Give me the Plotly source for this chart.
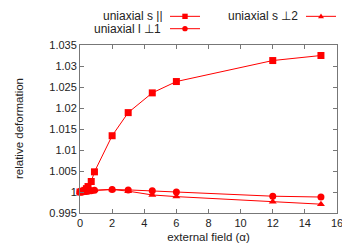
import plotly.graph_objects as go

field = [0, 0.1, 0.2, 0.3, 0.4, 0.5, 0.7, 0.9, 2, 3, 4.5, 6, 12, 15]
s_par = [1.0, 1.0001, 1.0002, 1.0004, 1.0008, 1.0013, 1.0025, 1.0048, 1.0134, 1.0189, 1.0236, 1.0263, 1.0313, 1.0325]
l_perp1 = [1.0, 1.0, 1.0001, 1.0001, 1.0002, 1.0002, 1.0003, 1.0004, 1.0006, 1.0005, 1.0003, 1.0, 0.999, 0.9988]
s_perp2 = [1.0, 1.0, 1.0, 1.0001, 1.0001, 1.0002, 1.0003, 1.0004, 1.0006, 1.0002, 0.9993, 0.9989, 0.9977, 0.9971]

names = ["uniaxial s ||", "uniaxial l \u22a51", "uniaxial s \u22a52"]
symbols = ["square", "circle", "triangle-up"]
sizes = [7, 7, 7]
series = [s_par, l_perp1, s_perp2]

ytickvals = [0.995, 1.0, 1.005, 1.01, 1.015, 1.02, 1.025, 1.03, 1.035]
yticktext = ["0.995", "1", "1.005", "1.01", "1.015", "1.02", "1.025", "1.03", "1.035"]
xtickvals = [0, 2, 4, 6, 8, 10, 12, 14, 16]

RED = "#ff0000"
FONT = "Liberation Sans, Arial, sans-serif"
W, H = 350, 245
ML, MR, MT, MB = 72, 21, 37, 38
PW, PH = W - ML - MR, H - MT - MB


def px(x):
    return (x - ML) / PW


def py(y):
    return (H - MB - y) / PH


fig = go.Figure()
for nm, sym, sz, ys in zip(names, symbols, sizes, series):
    fig.add_trace(go.Scatter(x=field, y=ys, mode="lines+markers", name=nm,
                             line=dict(color=RED, width=1),
                             marker=dict(symbol=sym, size=sz, color=RED),
                             showlegend=False, cliponaxis=False))

# legend keys (gnuplot style), drawn as shapes in paper coordinates
leg_text_x = [156, 154, 291]
leg_y = [8, 20.5, 8]
leg_line_x0 = [162, 162, 298]
leg_line_x1 = [192, 192, 328]
r = 2.7
for i in range(3):
    cx = (leg_line_x0[i] + leg_line_x1[i]) / 2
    cy = leg_y[i]
    fig.add_shape(type="line", xref="paper", yref="paper",
                  x0=px(leg_line_x0[i]), x1=px(leg_line_x1[i]),
                  y0=py(cy), y1=py(cy), line=dict(color=RED, width=1))
    if symbols[i] == "square":
        fig.add_shape(type="rect", xref="paper", yref="paper",
                      x0=px(cx - r), x1=px(cx + r), y0=py(cy + r), y1=py(cy - r),
                      fillcolor=RED, line=dict(width=0))
    elif symbols[i] == "circle":
        fig.add_shape(type="circle", xref="paper", yref="paper",
                      x0=px(cx - r), x1=px(cx + r), y0=py(cy + r), y1=py(cy - r),
                      fillcolor=RED, line=dict(width=0))
    else:
        path = "M {} {} L {} {} L {} {} Z".format(px(cx - 3), py(cy + 2), px(cx + 3), py(cy + 2),
                                                  px(cx), py(cy - 3))
        fig.add_shape(type="path", xref="paper", yref="paper", path=path,
                      fillcolor=RED, line=dict(width=0))
    fig.add_annotation(x=px(leg_text_x[i]), y=py(cy), xref="paper", yref="paper",
                       text=names[i], showarrow=False, xanchor="right", yanchor="middle",
                       height=12, valign="middle", borderpad=0,
                       font=dict(size=12, color="#222", family=FONT))

fig.add_annotation(x=px(11), y=py(122), xref="paper", yref="paper", text="relative deformation",
                   textangle=-90, showarrow=False, xanchor="center", yanchor="middle",
                   font=dict(size=11.5, color="#222", family=FONT))

axis_common = dict(showline=True, linecolor="#777", linewidth=1, mirror="ticks",
                   ticks="inside", ticklen=4, tickcolor="#777", showgrid=False,
                   zeroline=False, tickfont=dict(size=11, color="#222", family=FONT))

fig.update_layout(
    width=W, height=H,
    margin=dict(l=ML, r=MR, t=MT, b=MB),
    paper_bgcolor="white", plot_bgcolor="white",
    showlegend=False,
    xaxis=dict(range=[0, 16], tickvals=xtickvals, title=dict(text="external field (\u03b1)", standoff=4,
               font=dict(size=11.5, color="#222", family=FONT)), **axis_common),
    yaxis=dict(range=[0.995, 1.035], tickvals=ytickvals, ticktext=yticktext, **axis_common),
)

fig.write_html("out.html")
